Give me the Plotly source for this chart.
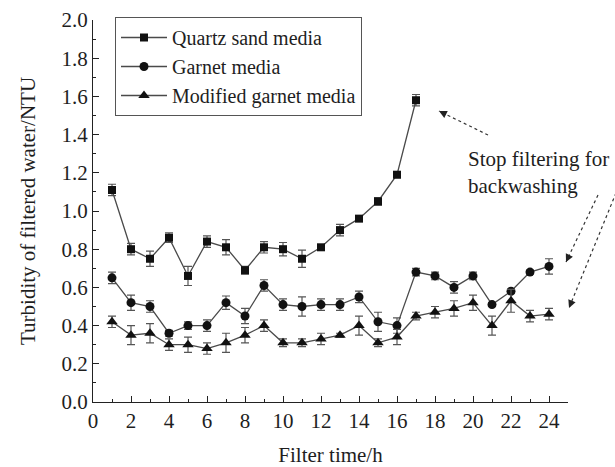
import plotly.graph_objects as go

hours_q = list(range(1, 18))
hours = list(range(1, 25))

quartz = [1.11, 0.80, 0.75, 0.86, 0.66, 0.84, 0.81, 0.69, 0.81, 0.80, 0.75, 0.81, 0.90, 0.96, 1.05, 1.19, 1.58]
quartz_err = [0.03, 0.03, 0.04, 0.025, 0.05, 0.03, 0.04, 0.02, 0.03, 0.035, 0.045, 0.01, 0.03, 0.01, 0.02, 0.015, 0.03]

garnet = [0.65, 0.52, 0.50, 0.36, 0.40, 0.40, 0.52, 0.45, 0.61, 0.51, 0.50, 0.51, 0.51, 0.55, 0.42, 0.40,
          0.68, 0.66, 0.60, 0.66, 0.51, 0.58, 0.68, 0.71]
garnet_err = [0.03, 0.04, 0.03, 0.015, 0.02, 0.03, 0.035, 0.04, 0.03, 0.03, 0.05, 0.03, 0.03, 0.03, 0.05, 0.04,
              0.02, 0.02, 0.03, 0.02, 0.01, 0.01, 0.01, 0.04]

modified = [0.42, 0.35, 0.36, 0.30, 0.30, 0.28, 0.31, 0.35, 0.40, 0.31, 0.31, 0.33, 0.35, 0.40, 0.31, 0.34,
            0.45, 0.47, 0.49, 0.52, 0.40, 0.53, 0.45, 0.46]
modified_err = [0.03, 0.05, 0.05, 0.03, 0.04, 0.03, 0.05, 0.04, 0.03, 0.02, 0.02, 0.03, 0.01, 0.05, 0.02, 0.04,
                0.02, 0.03, 0.04, 0.04, 0.05, 0.06, 0.03, 0.03]

x_ticks = list(range(0, 25, 2))
y_ticks = [round(0.2 * i, 1) for i in range(11)]

FONT = "Liberation Serif"
FS = 21
LINE = "#4a4a4a"
MK = "#111111"
TXT = "#1e1e1e"

fig = go.Figure()

def add_series(x, y, err, name, symbol, size):
    fig.add_trace(go.Scatter(
        x=x, y=y, name=name, mode="lines+markers",
        line=dict(color=LINE, width=1.3),
        marker=dict(symbol=symbol, size=size, color=MK),
        error_y=dict(type="data", array=err, visible=True, color="#555555", thickness=1.2, width=4),
    ))

add_series(hours_q, quartz, quartz_err, "Quartz sand media", "square", 8)
add_series(hours, garnet, garnet_err, "Garnet media", "circle", 9)
add_series(hours, modified, modified_err, "Modified garnet media", "triangle-up", 10)

# plot area in pixels
L, R, T, B = 93, 568, 20, 402
def px(xp):
    return (xp - L) / (R - L)
def py(yp):
    return (B - yp) / (B - T)

arrows = [
    ((488, 135), (439, 111)),
    ((598, 195), (566, 262)),
    ((616, 193), (569, 308)),
]
for (tx, ty), (hx, hy) in arrows:
    fig.add_shape(type="line", xref="paper", yref="paper",
                  x0=px(tx), y0=py(ty), x1=px(hx), y1=py(hy),
                  line=dict(color="#333333", width=1.2, dash="dot"))
    dx, dy = tx - hx, ty - hy
    n = (dx * dx + dy * dy) ** 0.5
    fig.add_annotation(xref="paper", yref="paper", x=px(hx), y=py(hy),
                       ax=dx / n * 9, ay=dy / n * 9, text="", showarrow=True,
                       arrowhead=2, arrowsize=1.2, arrowwidth=1.3, arrowcolor="#222222")

fig.add_annotation(xref="paper", yref="paper", x=px(466), y=py(145),
                   xanchor="left", yanchor="top", align="left", showarrow=False,
                   text="Stop filtering for<br>backwashing",
                   font=dict(family=FONT, size=FS, color=TXT))

fig.update_layout(
    width=615, height=467,
    margin=dict(l=L, r=615 - R, t=T, b=467 - B),
    paper_bgcolor="white", plot_bgcolor="white",
    font=dict(family=FONT, size=FS, color=TXT),
    showlegend=True,
    legend=dict(x=px(115), y=py(17), xanchor="left", yanchor="top",
                bordercolor="#555555", borderwidth=1, bgcolor="white",
                font=dict(family=FONT, size=20, color=TXT), tracegroupgap=0,
                itemwidth=46),
)

fig.update_xaxes(range=[0, 25], tickvals=x_ticks, ticktext=[str(v) for v in x_ticks],
                 ticks="inside", ticklen=6, tickwidth=1, tickcolor="#222",
                 minor=dict(dtick=1, tick0=0, ticks="inside", ticklen=3, tickcolor="#222"),
                 showline=True, linecolor="#222", linewidth=1.2, showgrid=False, zeroline=False,
                 automargin=False,
                 tickfont=dict(family=FONT, size=FS, color=TXT),
                 title=dict(text="Filter time/h", standoff=20, font=dict(family=FONT, size=FS, color=TXT)))
fig.update_yaxes(range=[0, 2.0], tickvals=y_ticks, ticktext=[f"{v:.1f}" for v in y_ticks],
                 ticks="inside", ticklen=6, tickwidth=1, tickcolor="#222",
                 minor=dict(dtick=0.1, tick0=0, ticks="inside", ticklen=3, tickcolor="#222"),
                 showline=True, linecolor="#222", linewidth=1.2, showgrid=False, zeroline=False,
                 automargin=False,
                 tickfont=dict(family=FONT, size=FS, color=TXT),
                 title=dict(text="Turbidity of filtered water/NTU", standoff=20, font=dict(family=FONT, size=FS, color=TXT)))

fig.write_html("out.html")
